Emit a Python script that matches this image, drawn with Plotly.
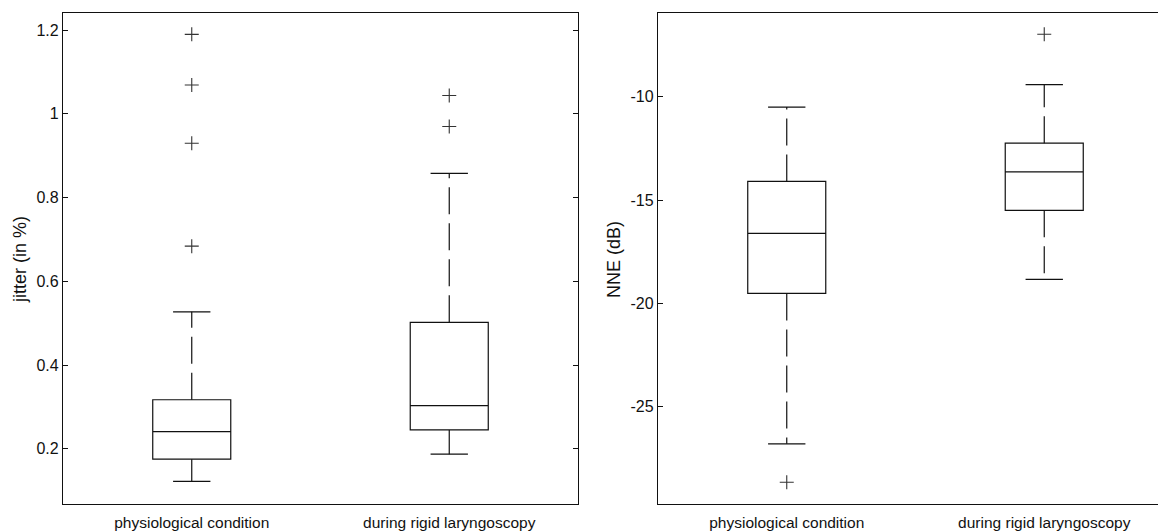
import plotly.graph_objects as go

# ---- data ----
categories = ["physiological condition", "during rigid laryngoscopy"]
cat_pos = [1, 2]

# jitter (in %)
jit_lower = [0.122, 0.187]
jit_q1 = [0.175, 0.245]
jit_med = [0.241, 0.303]
jit_q3 = [0.317, 0.502]
jit_upper = [0.527, 0.858]
jit_out = [[0.684, 0.930, 1.069, 1.190], [0.970, 1.044]]

# NNE (dB)
nne_lower = [-26.8, -18.84]
nne_q1 = [-19.52, -15.5]
nne_med = [-16.61, -13.64]
nne_q3 = [-14.1, -12.25]
nne_upper = [-10.5, -9.42]
nne_out = [[-28.66], [-6.98]]

jit_ticks = [0.2, 0.4, 0.6, 0.8, 1.0, 1.2]
jit_ticktext = ["0.2", "0.4", "0.6", "0.8", "1", "1.2"]
nne_ticks = [-25, -20, -15, -10]
nne_ticktext = ["-25", "-20", "-15", "-10"]

# ---- styling ----
OFF = 8                      # page body margin
W, H = 1166 - OFF, 532 - OFF
FONT = "Liberation Sans, Arial, Helvetica, sans-serif"
INK = "#111111"
BOX_W = 0.303
CAP_HALF = 0.0725
DASH = "27px,9px"


def px_x(p):
    return (p - OFF) / W


def px_y(p):
    return (H - (p - OFF)) / H


fig = go.Figure()


def add_panel(xa, ya, lower, q1, med, q3, upper, outs):
    for i, c in enumerate(cat_pos):
        fig.add_trace(go.Box(
            x=[c], q1=[q1[i]], median=[med[i]], q3=[q3[i]],
            lowerfence=[q1[i]], upperfence=[q3[i]],
            width=BOX_W, boxpoints=False,
            fillcolor="rgba(0,0,0,0)",
            line=dict(color=INK, width=1.2),
            xaxis=xa, yaxis=ya, showlegend=False, hoverinfo="skip",
        ))
        # dashed whiskers (from box edge outwards)
        fig.add_trace(go.Scatter(
            x=[c, c, None, c, c],
            y=[q3[i], upper[i], None, q1[i], lower[i]],
            mode="lines", line=dict(color=INK, width=1.2, dash=DASH),
            xaxis=xa, yaxis=ya, showlegend=False, hoverinfo="skip",
        ))
        # whisker caps
        fig.add_trace(go.Scatter(
            x=[c - CAP_HALF, c + CAP_HALF, None, c - CAP_HALF, c + CAP_HALF],
            y=[upper[i], upper[i], None, lower[i], lower[i]],
            mode="lines", line=dict(color=INK, width=1.2),
            xaxis=xa, yaxis=ya, showlegend=False, hoverinfo="skip",
        ))
        # outliers
        fig.add_trace(go.Scatter(
            x=[c] * len(outs[i]), y=outs[i], mode="markers",
            marker=dict(symbol="cross-thin", size=10,
                        line=dict(color="#333333", width=1.1)),
            xaxis=xa, yaxis=ya, showlegend=False, hoverinfo="skip",
        ))


add_panel("x", "y", jit_lower, jit_q1, jit_med, jit_q3, jit_upper, jit_out)
add_panel("x2", "y2", nne_lower, nne_q1, nne_med, nne_q3, nne_upper, nne_out)

xaxis_common = dict(
    tickvals=cat_pos, ticktext=categories, ticks="", showgrid=False,
    zeroline=False, showline=True, linecolor=INK, linewidth=1.3,
    mirror=True, tickfont=dict(family=FONT, size=15.5, color=INK),
    ticklabelstandoff=4, fixedrange=True,
)
yaxis_common = dict(
    ticks="inside", ticklen=5, tickcolor=INK, tickwidth=1.2,
    showgrid=False, zeroline=False, showline=True, linecolor=INK,
    linewidth=1.3, tickfont=dict(family=FONT, size=16, color=INK),
    domain=[px_y(504), px_y(13)], fixedrange=True,
)

fig.update_layout(
    width=W, height=H,
    margin=dict(l=0, r=0, t=0, b=0),
    paper_bgcolor="white", plot_bgcolor="white",
    font=dict(family=FONT, size=15, color=INK),
    xaxis=dict(xaxis_common, domain=[px_x(63), px_x(578)], range=[0.5, 2.5],
               anchor="y"),
    yaxis=dict(yaxis_common, range=[0.068, 1.241], tickvals=jit_ticks,
               ticktext=jit_ticktext, mirror="ticks", anchor="x"),
    xaxis2=dict(xaxis_common, domain=[px_x(658), 1.0],
                range=[0.5, 0.5 + (1166 - 658) / 257.5], anchor="y2"),
    yaxis2=dict(yaxis_common, range=[-29.71, -5.95], tickvals=nne_ticks,
                ticktext=nne_ticktext, mirror=False, anchor="x2"),
    annotations=[
        dict(text="jitter (in %)", x=px_x(20), y=px_y(260), xref="paper",
             yref="paper", textangle=-90, showarrow=False,
             xanchor="center", yanchor="middle",
             font=dict(family=FONT, size=18, color=INK)),
        dict(text="NNE (dB)", x=px_x(614), y=px_y(260), xref="paper",
             yref="paper", textangle=-90, showarrow=False,
             xanchor="center", yanchor="middle",
             font=dict(family=FONT, size=18, color=INK)),
    ],
)

fig.write_html("out.html")
